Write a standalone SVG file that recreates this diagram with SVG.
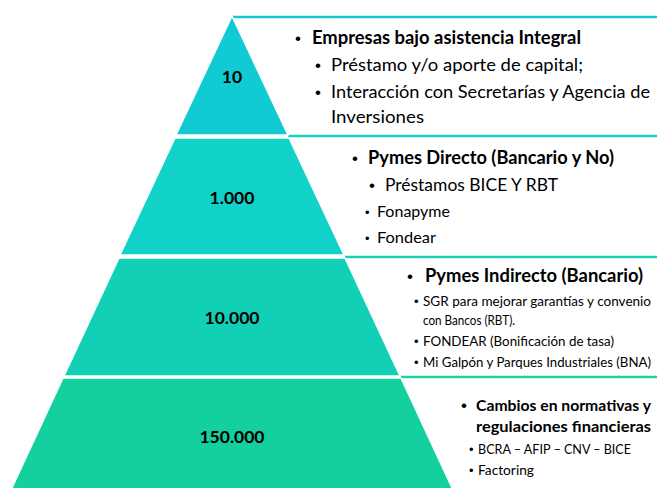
<svg xmlns="http://www.w3.org/2000/svg" width="657" height="488" viewBox="0 0 657 488">
<style>
text{font-family:Lato,"Liberation Sans",sans-serif;fill:#000}
.num{font-weight:bold;font-size:17.5px;text-anchor:middle}
.h{font-weight:bold;font-size:18px}
.hn{font-weight:bold;font-size:15.5px}
.m{font-size:18px}
.s{font-size:15px}
.xs{font-size:14px}
.xn{font-size:13px}
.b{font-family:"Liberation Sans",sans-serif;font-size:17px}
.bs{font-family:"Liberation Sans",sans-serif;font-size:13px}
.layer{stroke:#ffffff;stroke-width:1.5}
.sep{stroke-width:2.5;fill:none}
</style>
<rect width="657" height="488" fill="#ffffff"/>
<g id="connectors">
<line class="sep" x1="232" y1="17" x2="657" y2="17" stroke="#17c6cf"/>
<line class="sep" x1="288" y1="136" x2="657" y2="136" stroke="#1ccfc3"/>
<line class="sep" x1="345" y1="257" x2="657" y2="257" stroke="#1dcfb2"/>
<line class="sep" x1="401" y1="377" x2="657" y2="377" stroke="#1fcf9f"/>
</g>
<g id="layer1">
<polygon class="layer" points="232,16 288,135 176,135" fill="#10cbd4"/>
<text class="num" x="232" y="83">10</text>
<text class="b" x="295" y="44">•</text>
<text class="h" x="312" y="44" textLength="269" lengthAdjust="spacingAndGlyphs">Empresas bajo asistencia Integral</text>
<text class="b" x="315" y="71">•</text>
<text class="m" x="331" y="71" textLength="252" lengthAdjust="spacingAndGlyphs">Préstamo y/o aporte de capital;</text>
<text class="b" x="315" y="98">•</text>
<text class="m" x="331" y="98" textLength="319" lengthAdjust="spacingAndGlyphs">Interacción con Secretarías y Agencia de</text>
<text class="m" x="331" y="123" textLength="93" lengthAdjust="spacingAndGlyphs">Inversiones</text>
</g>
<g id="layer2">
<polygon class="layer" points="175,138 289,138 344,255 120,255" fill="#10d2c8"/>
<text class="num" x="232" y="204">1.000</text>
<text class="b" x="352" y="164">•</text>
<text class="h" x="368" y="164" textLength="246" lengthAdjust="spacingAndGlyphs">Pymes Directo (Bancario y No)</text>
<text class="b" x="369" y="191">•</text>
<text class="m" x="385" y="191" textLength="173" lengthAdjust="spacingAndGlyphs">Préstamos BICE Y RBT</text>
<text class="bs" x="365" y="217">•</text>
<text class="s" x="377" y="217" textLength="73" lengthAdjust="spacingAndGlyphs">Fonapyme</text>
<text class="bs" x="365" y="243">•</text>
<text class="s" x="377" y="243" textLength="59" lengthAdjust="spacingAndGlyphs">Fondear</text>
</g>
<g id="layer3">
<polygon class="layer" points="119,258 345,258 400,376 64,376" fill="#12d0b5"/>
<text class="num" x="232" y="324">10.000</text>
<text class="b" x="407" y="282">•</text>
<text class="h" x="425" y="282" style="font-size:19px" textLength="218" lengthAdjust="spacingAndGlyphs">Pymes Indirecto (Bancario)</text>
<text class="bs" x="414" y="306">•</text>
<text class="xn" x="423" y="306" textLength="228" lengthAdjust="spacingAndGlyphs">SGR para mejorar garantías y convenio</text>
<text class="xs" x="423" y="325" textLength="92" lengthAdjust="spacingAndGlyphs">con Bancos (RBT).</text>
<text class="bs" x="414" y="346">•</text>
<text class="xs" x="423" y="346" textLength="191" lengthAdjust="spacingAndGlyphs">FONDEAR (Bonificación de tasa)</text>
<text class="bs" x="414" y="367">•</text>
<text class="xn" x="423" y="367" textLength="228" lengthAdjust="spacingAndGlyphs">Mi Galpón y Parques Industriales (BNA)</text>
</g>
<g id="layer4">
<polygon class="layer" points="63,378 401,378 453,490 11,490" fill="#14cf9e"/>
<text class="num" x="232" y="443">150.000</text>
<text class="b" x="461" y="411">•</text>
<text class="hn" x="476" y="411" textLength="175" lengthAdjust="spacingAndGlyphs">Cambios en normativas y</text>
<text class="hn" x="476" y="432" textLength="175" lengthAdjust="spacingAndGlyphs">regulaciones financieras</text>
<text class="bs" x="469" y="454">•</text>
<text class="xs" x="478" y="454" textLength="153" lengthAdjust="spacingAndGlyphs">BCRA – AFIP – CNV – BICE</text>
<text class="bs" x="469" y="475">•</text>
<text class="xs" x="478" y="475" textLength="56" lengthAdjust="spacingAndGlyphs">Factoring</text>
</g>
</svg>
